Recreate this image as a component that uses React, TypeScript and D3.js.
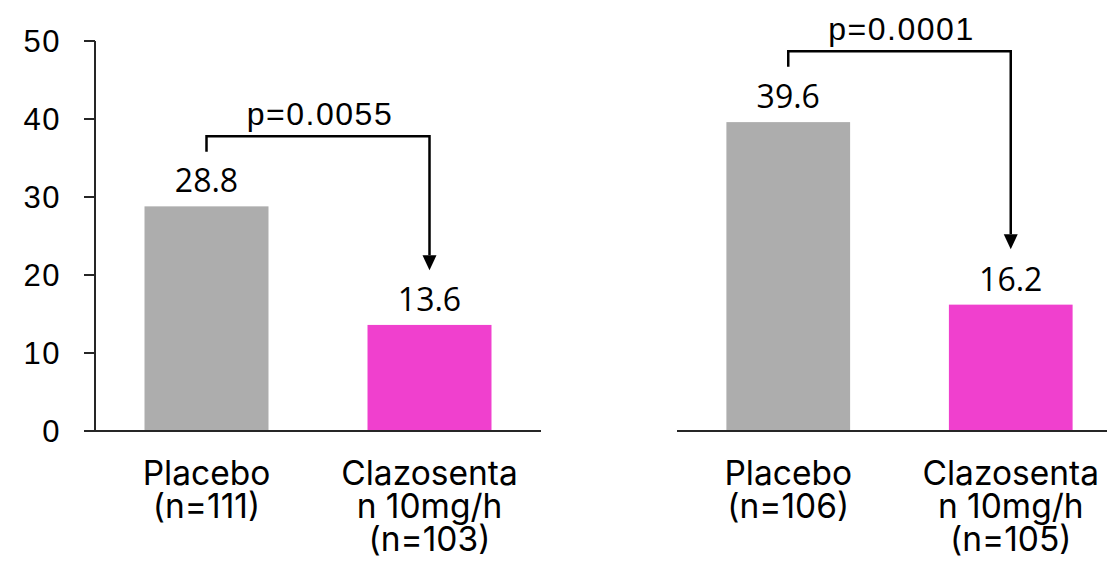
import React from "react";
import * as d3 from "d3";

// ---- data ----
const categories = ["Placebo", "Clazosentan 10mg/h"];
const leftValues = [28.8, 13.6];
const rightValues = [39.6, 16.2];
const leftLabels = [["Placebo", "(n=111)"], ["Clazosenta", "n 10mg/h", "(n=103)"]];
const rightLabels = [["Placebo", "(n=106)"], ["Clazosenta", "n 10mg/h", "(n=105)"]];
const yTicks = [0, 10, 20, 30, 40, 50];
const pValues = ["p=0.0055", "p=0.0001"];
// bracket heights in data units: [top line, left leg end, arrow tip]
const leftBracket = [37.8, 35.8, 20.6];
const rightBracket = [48.7, 46.7, 23.3];

const W = 1107;
const H = 565;
const barColors = ["#ADADAD", "#F040CE"];
const axisColor = "#262626";

const y = d3.scaleLinear().domain([0, 50]).range([431, 41]);

const makeX = (r0: number, r1: number) =>
  d3.scaleBand<string>().domain(categories).range([r0, r1]).paddingInner(0.444).paddingOuter(0.222);

const xLeft = makeX(95, 541);
const xRight = makeX(677, 1122);

function Panel({ x, values, labels, bracket, p }: any) {
  const [r0, r1] = x.range();
  const c0 = x(categories[0]) + x.bandwidth() / 2;
  const c1 = x(categories[1]) + x.bandwidth() / 2;
  const yTop = y(bracket[0]);
  const yLeg = y(bracket[1]);
  const yTip = y(bracket[2]);
  const ah = 15;
  const aw = 7;
  return (
    <g>
      {values.map((v: number, i: number) => (
        <rect
          key={i}
          x={x(categories[i])}
          y={y(v)}
          width={x.bandwidth()}
          height={y(0) - y(v)}
          fill={barColors[i]}
        />
      ))}
      <line x1={r0} x2={r1} y1={y(0)} y2={y(0)} stroke={axisColor} strokeWidth={2} />
      {values.map((v: number, i: number) => (
        <text
          key={"v" + i}
          x={x(categories[i]) + x.bandwidth() / 2}
          y={y(v) - 14}
          textAnchor="middle"
          fontFamily="'Open Sans', 'Noto Sans', sans-serif"
          fontSize={32}
          fill="#000"
        >
          {v.toFixed(1)}
        </text>
      ))}
      {labels.map((lines: string[], i: number) => {
        const cx = x(categories[i]) + x.bandwidth() / 2;
        return (
          <text
            key={"c" + i}
            x={cx}
            y={485}
            textAnchor="middle"
            fontFamily="Inter, 'Open Sans', sans-serif"
            fontSize={33.5}
            fill="#000"
          >
            {lines.map((ln: string, j: number) => (
              <tspan key={j} x={cx} dy={j === 0 ? 0 : 33}>
                {ln}
              </tspan>
            ))}
          </text>
        );
      })}
      <path
        d={`M${c0},${yLeg} L${c0},${yTop} L${c1},${yTop} L${c1},${yTip - ah}`}
        fill="none"
        stroke="#000"
        strokeWidth={2.5}
      />
      <path d={`M${c1 - aw},${yTip - ah} L${c1 + aw},${yTip - ah} L${c1},${yTip} Z`} fill="#000" />
      <text
        x={(c0 + c1) / 2 + 2}
        y={yTop - 11}
        textAnchor="middle"
        fontFamily="'Liberation Sans', Arial, sans-serif"
        fontSize={32}
        letterSpacing={1.5}
        fill="#000"
      >
        {p}
      </text>
    </g>
  );
}

export default function App() {
  return (
    <svg
      width={W}
      height={H}
      style={{ position: "absolute", left: 0, top: 0, background: "#fff" }}
    >
      <rect width={W} height={H} fill="#fff" />
      {/* left y axis */}
      <line x1={95} x2={95} y1={y(50)} y2={y(0)} stroke={axisColor} strokeWidth={2} />
      {yTicks.map((t) => (
        <g key={t}>
          <line x1={84} x2={95} y1={y(t)} y2={y(t)} stroke={axisColor} strokeWidth={2} />
          <text
            x={61}
            y={y(t)}
            dy="0.36em"
            textAnchor="end"
            fontFamily="'Liberation Sans', Arial, sans-serif"
            fontSize={31}
            letterSpacing={1.5}
            fill="#000"
          >
            {t}
          </text>
        </g>
      ))}
      <Panel x={xLeft} values={leftValues} labels={leftLabels} bracket={leftBracket} p={pValues[0]} />
      <Panel x={xRight} values={rightValues} labels={rightLabels} bracket={rightBracket} p={pValues[1]} />
    </svg>
  );
}
